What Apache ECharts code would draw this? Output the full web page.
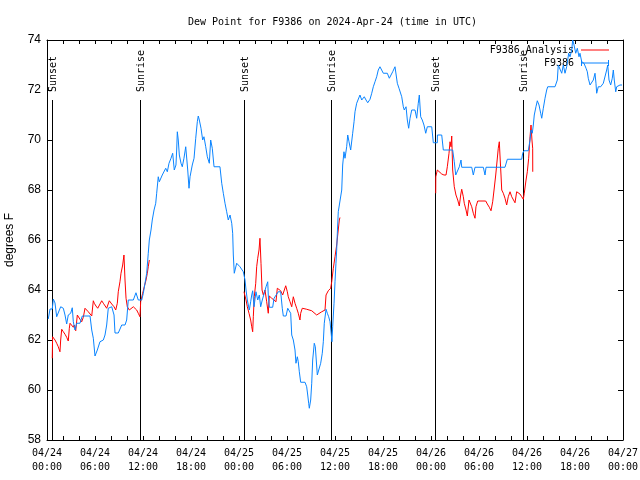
<!DOCTYPE html>
<html><head><meta charset="utf-8">
<script src="https://cdn.jsdelivr.net/npm/echarts@6/dist/echarts.min.js"></script>
<style>html,body{margin:0;padding:0;background:#fff}#c{width:640px;height:480px}</style>
</head><body><div id="c"></div>
<script>
// hours since 2024-04-24 00:00 UTC
const dayLabels = ['04/24','04/25','04/26','04/27'];
const yTicks = [58,60,62,64,66,68,70,72,74];
const sunTimes = [0.66, 11.66, 24.66, 35.54, 48.54, 59.54];
const sunLabels = ['Sunset','Sunrise','Sunset','Sunrise','Sunset','Sunrise'];

const obsSeries = [
[0.16,62.84],[0.38,63.24],[0.66,63.24],[0.79,63.64],[1.0,63.48],[1.21,62.93],[1.41,62.93],[1.71,63.33],[2.04,63.27],[2.25,63.0],
[2.46,62.64],[2.66,63.0],[2.96,63.07],[3.16,63.29],[3.29,62.73],[3.5,62.4],[3.71,62.67],[4.12,62.67],[4.41,62.96],[5.38,62.96],
[5.59,62.4],[5.79,62.07],[6.0,61.36],[6.29,61.6],[6.62,61.93],[7.04,62.0],[7.25,62.2],[7.46,62.6],[7.66,63.27],[8.09,63.33],
[8.38,63.0],[8.5,62.28],[8.91,62.28],[9.34,62.6],[9.75,62.6],[9.96,62.8],[10.16,63.6],[10.79,63.6],[11.12,63.89],[11.41,63.6],
[11.84,63.6],[12.04,63.87],[12.25,63.93],[12.46,64.67],[12.66,65.47],[12.79,66.0],[13.0,66.4],[13.16,66.8],[13.38,67.2],[13.59,67.47],
[13.71,67.87],[13.91,68.53],[14.04,68.33],[14.25,68.4],[14.41,68.6],[14.62,68.6],[14.84,68.87],[15.04,68.73],[15.25,69.07],[15.5,69.27],
[15.71,69.47],[15.91,68.8],[16.12,69.0],[16.21,69.6],[16.29,70.33],[16.41,70.0],[16.54,69.4],[16.75,69.07],[16.91,68.93],[17.12,69.27],
[17.34,69.73],[17.59,68.8],[17.75,68.07],[17.88,68.53],[18.16,69.0],[18.38,69.27],[18.59,70.07],[18.79,70.73],[18.91,70.96],[19.04,70.8],
[19.25,70.47],[19.46,70.0],[19.62,70.13],[19.84,69.73],[20.04,69.33],[20.29,69.07],[20.46,70.0],[20.66,69.67],[20.88,68.93],[21.62,68.93],
[21.84,68.27],[22.04,67.87],[22.25,67.47],[22.46,67.13],[22.66,66.8],[22.88,67.0],[23.09,66.67],[23.21,66.27],[23.29,65.4],[23.41,64.67],
[23.71,65.07],[24.12,64.93],[24.54,64.73],[24.75,64.4],[24.88,64.0],[25.04,63.6],[25.29,63.2],[25.46,63.53],[25.59,63.8],[25.71,63.97],
[25.88,63.33],[26.12,63.93],[26.34,63.6],[26.54,63.8],[26.71,63.33],[26.91,63.6],[27.16,63.87],[27.38,64.13],[27.59,64.33],[27.66,63.8],
[27.79,63.31],[28.21,63.31],[28.38,63.67],[28.59,63.67],[28.91,63.93],[29.21,63.93],[29.41,63.27],[29.54,62.96],[29.88,62.96],[30.09,63.27],
[30.29,63.31],[30.46,63.07],[30.59,62.2],[30.79,62.0],[31.0,61.6],[31.12,61.07],[31.29,61.33],[31.41,61.13],[31.54,60.73],[31.71,60.31],
[32.25,60.31],[32.46,60.13],[32.59,59.8],[32.71,59.47],[32.79,59.27],[32.96,59.6],[33.09,60.27],[33.21,61.2],[33.41,61.87],[33.54,61.73],
[33.71,61.73],[33.79,60.6],[34.04,60.67],[34.21,61.07],[34.41,61.47],[34.54,61.93],[34.66,62.67],[34.88,63.23],[35.04,63.07],[35.21,62.93],
[35.38,62.73],[35.5,62.67],[35.62,61.93],[35.71,62.53],[35.88,63.47],[36.0,64.33],[36.12,65.07],[36.21,65.6],[36.29,66.27],[36.41,67.13],
[36.62,67.2],[36.84,68.0],[36.96,69.0],[37.12,69.53],[37.25,69.27],[37.46,69.73],[37.59,70.2],[37.75,69.93],[37.96,69.6],[38.21,70.27],
[38.38,70.73],[38.5,71.13],[38.71,71.47],[38.91,71.53],[39.12,71.8],[39.34,71.6],[39.54,71.53],[39.66,71.73],[39.88,71.6],[40.09,71.49],
[40.38,71.63],[40.59,71.87],[40.79,72.13],[41.0,72.33],[41.21,72.53],[41.41,72.8],[41.62,72.93],[41.84,73.0],[42.04,72.67],[42.54,72.67],
[42.79,72.47],[43.0,72.6],[43.21,72.73],[43.5,72.93],[43.62,73.0],[43.79,72.27],[44.0,72.07],[44.21,72.0],[44.34,71.73],[44.54,71.33],
[44.66,71.2],[44.88,71.33],[45.04,70.8],[45.21,70.47],[45.38,70.87],[45.59,71.2],[46.0,71.2],[46.21,70.87],[46.41,71.47],[46.54,71.8],
[46.71,70.93],[46.91,70.8],[47.12,70.6],[47.34,70.27],[47.54,70.53],[48.09,70.53],[48.29,69.89],[48.79,69.89],[48.8,70.2],[49.34,70.2],
[49.54,69.6],[50.71,69.6],[50.91,69.13],[51.09,68.6],[51.34,68.6],[51.54,68.93],[51.75,69.2],[51.84,68.91],[53.09,68.91],[53.29,68.6],
[53.5,68.91],[54.54,68.91],[54.75,68.6],[54.88,68.91],[57.25,68.91],[57.54,69.23],[59.34,69.23],[59.46,69.47],[59.62,69.57],[60.16,69.57],
[60.38,70.0],[60.5,70.4],[60.66,70.27],[60.79,70.6],[60.91,71.0],[61.12,71.33],[61.29,71.57],[61.5,71.4],[61.71,71.07],[61.84,70.87],
[62.04,71.27],[62.25,71.67],[62.46,72.0],[62.59,72.13],[63.5,72.13],[63.79,72.4],[63.91,73.0],[64.12,73.07],[64.34,72.67],[64.54,73.0],
[64.75,72.67],[64.96,72.93],[65.09,73.2],[65.21,73.47],[65.38,73.33],[65.59,73.6],[65.71,74.0],[65.88,73.8],[66.09,73.47],[66.29,73.67],
[66.5,73.33],[66.62,73.47],[66.84,73.13],[67.12,73.07],[67.38,72.87],[67.54,72.73],[67.66,72.47],[67.88,72.2],[68.09,72.13],[68.29,72.4],
[68.5,72.67],[68.62,72.27],[68.71,71.87],[68.91,72.13],[69.21,72.13],[69.54,72.27],[69.75,72.33],[69.96,72.8],[70.09,73.0],[70.25,72.4],
[70.46,72.2],[70.66,72.47],[70.79,72.8],[70.91,72.4],[71.09,71.93],[71.21,72.13],[71.34,72.2],[71.62,72.2],[71.88,72.2]
];

const analysisSeries = [
[0.66,61.27],[0.7,62.13],[1.0,62.0],[1.21,61.87],[1.41,61.73],[1.62,61.53],[1.71,62.0],[1.84,62.43],[2.04,62.33],[2.25,62.23],
[2.46,62.11],[2.66,61.96],[2.79,62.47],[2.88,62.67],[3.09,62.6],[3.29,62.51],[3.41,62.6],[3.59,62.37],[3.79,63.0],[3.91,62.96],
[4.12,62.83],[4.34,62.73],[4.54,62.91],[4.75,63.27],[4.96,63.2],[5.16,63.13],[5.38,63.07],[5.59,62.96],[5.79,63.57],[5.91,63.47],
[6.12,63.36],[6.34,63.27],[6.54,63.2],[6.84,63.57],[7.04,63.47],[7.25,63.4],[7.46,63.27],[7.79,63.57],[8.09,63.44],[8.38,63.33],
[8.59,63.2],[8.79,63.47],[8.91,63.93],[9.12,64.33],[9.25,64.67],[9.46,65.0],[9.62,65.4],[9.75,64.4],[9.88,63.67],[10.04,63.33],
[10.29,63.2],[10.5,63.13],[10.79,63.33],[11.0,63.4],[11.21,63.2],[11.41,63.07],[11.62,62.93],[11.71,63.53],[11.96,63.87],[12.16,64.13],
[12.38,64.4],[12.54,64.67],[12.66,64.93],[12.79,65.2],[null,null],
[24.62,63.93],[24.75,63.93],[24.88,63.6],[25.04,63.33],[25.25,63.07],[25.46,62.8],[25.59,62.53],[25.71,62.33],[25.79,62.93],[25.91,63.73],
[26.09,64.27],[26.21,64.93],[26.34,65.27],[26.5,65.6],[26.62,66.07],[26.75,65.07],[26.88,64.0],[27.04,63.8],[27.25,64.0],[27.46,63.53],
[27.66,63.07],[27.79,63.76],[28.09,63.67],[28.29,63.6],[28.62,63.53],[28.79,64.07],[29.04,64.0],[29.21,63.97],[29.46,63.8],[29.62,63.73],
[29.84,64.17],[30.04,63.93],[30.16,63.73],[30.38,63.53],[30.59,63.33],[30.79,63.73],[31.0,63.47],[31.21,63.27],[31.41,63.07],[31.62,62.8],
[31.71,63.07],[31.91,63.27],[32.46,63.23],[33.09,63.17],[33.71,63.0],[34.34,63.13],[34.75,63.2],[34.88,63.8],[35.16,63.97],[35.46,64.07],
[35.59,64.33],[35.79,64.87],[36.0,65.33],[36.21,65.8],[36.34,66.2],[36.54,66.8],[36.62,66.9],[null,null],
[48.59,67.87],[48.6,68.53],[48.79,68.8],[49.04,68.73],[49.34,68.64],[49.62,68.6],[49.88,68.6],[50.04,68.93],[50.25,69.47],[50.38,69.93],
[50.5,69.73],[50.59,70.16],[50.71,68.8],[50.91,68.13],[51.12,67.8],[51.34,67.6],[51.54,67.36],[51.71,67.8],[51.84,68.03],[52.04,67.73],
[52.16,67.47],[52.38,67.2],[52.54,66.96],[52.75,67.6],[52.88,67.6],[53.09,67.33],[53.29,67.07],[53.5,66.87],[53.62,67.33],[53.84,67.56],
[54.84,67.56],[55.04,67.44],[55.29,67.31],[55.5,67.17],[55.71,67.53],[55.88,68.0],[56.09,68.6],[56.21,69.0],[56.41,69.67],[56.54,69.93],
[56.62,69.4],[56.75,68.6],[56.84,68.0],[57.04,67.87],[57.25,67.67],[57.46,67.4],[57.66,67.73],[57.88,67.93],[58.09,67.73],[58.29,67.67],
[58.5,67.49],[58.71,67.93],[58.91,68.0],[59.12,67.84],[59.34,67.73],[59.54,67.63],[59.66,67.87],[59.88,68.4],[60.04,68.73],[60.21,69.27],
[60.38,70.13],[60.5,70.6],[60.62,70.0],[60.71,69.67],[60.72,68.73]
];

const MONO = '"DejaVu Sans Mono", monospace';
const SANS = '"Liberation Sans", Arial, sans-serif';
const pad = n => (n < 10 ? '0' : '') + n;

const chart = echarts.init(document.getElementById('c'), null, {renderer: 'canvas'});
const xCommon = {
  type: 'value', min: 0, max: 72, interval: 2,
  axisLine: {show: true, onZero: false, lineStyle: {color: '#000', width: 1}},
  axisTick: {show: true, inside: true, length: 4, lineStyle: {color: '#000'}},
  splitLine: {show: false}
};
chart.setOption({
  animation: false,
  backgroundColor: '#fff',
  title: {
    text: 'Dew Point for F9386 on 2024-Apr-24 (time in UTC)',
    left: 183, top: 12,
    textStyle: {fontFamily: MONO, fontSize: 10, fontWeight: 'normal', color: '#000'}
  },
  legend: {
    orient: 'vertical', right: 26, top: 40, align: 'right',
    itemWidth: 28, itemHeight: 6, itemGap: 3,
    textStyle: {fontFamily: MONO, fontSize: 10, color: '#000', padding: [0, 2, 0, 0]},
    data: [
      {name: 'F9386_Analysis', icon: 'path://M0,0M0,2.5h28v1h-28zM28,6'},
      {name: 'F9386', icon: 'path://M0,0h1v6h-1zM0,2.5h28v1h-28zM27,0h1v6h-1z'}
    ]
  },
  grid: {left: 47, right: 17, top: 40, bottom: 40, containLabel: false, outerBoundsMode: 'none'},
  xAxis: [
    Object.assign({}, xCommon, {
      position: 'bottom',
      axisLabel: {
        show: true, margin: 6, color: '#000', fontFamily: MONO, fontSize: 10, lineHeight: 14,
        showMinLabel: true, showMaxLabel: true,
        formatter: v => (v % 6 === 0) ? dayLabels[Math.floor(v / 24)] + '\n' + pad(v % 24) + ':00' : ''
      }
    }),
    Object.assign({}, xCommon, {position: 'top', axisLabel: {show: false}})
  ],
  yAxis: [
    {
      type: 'value', min: 58, max: 74, interval: 2, position: 'left',
      name: 'degrees F', nameLocation: 'middle', nameGap: 31, nameRotate: 90,
      nameTextStyle: {fontFamily: SANS, fontSize: 12, color: '#000'},
      axisLine: {show: true, onZero: false, lineStyle: {color: '#000'}},
      axisTick: {show: true, inside: true, length: 5, lineStyle: {color: '#000'}},
      axisLabel: {margin: 6, color: '#000', fontFamily: SANS, fontSize: 12},
      splitLine: {show: false}
    },
    {
      type: 'value', min: 58, max: 74, interval: 2, position: 'right',
      axisLine: {show: true, onZero: false, lineStyle: {color: '#000'}},
      axisTick: {show: true, inside: true, length: 5, lineStyle: {color: '#000'}},
      axisLabel: {show: false},
      splitLine: {show: false}
    }
  ],
  series: [
    {
      type: 'custom', name: 'sun', silent: true,
      data: sunTimes.map((t, i) => [t, i]),
      clip: false,
      renderItem: (params, api) => {
        const t = api.value(0);
        const idx = api.value(1);
        const p0 = api.coord([t, 58]);
        const p1 = api.coord([t, 71.6]);
        const pt = api.coord([t, 71.92]);
        const x = Math.round(p0[0]) + 0.5;
        return {
          type: 'group',
          children: [
            {type: 'line', shape: {x1: x, y1: p0[1], x2: x, y2: p1[1]}, style: {stroke: '#000', lineWidth: 1}},
            {type: 'text', x: x + 1, y: pt[1], rotation: Math.PI / 2,
             style: {text: sunLabels[idx], font: '10px ' + MONO, fill: '#000', textAlign: 'left', textVerticalAlign: 'middle'}}
          ]
        };
      }
    },
    {
      type: 'line', name: 'F9386_Analysis', data: analysisSeries, showSymbol: false, symbol: 'none',
      connectNulls: false, lineStyle: {color: '#ff0000', width: 1}, itemStyle: {color: '#ff0000'}, z: 3
    },
    {
      type: 'line', name: 'F9386', data: obsSeries, showSymbol: false, symbol: 'none',
      lineStyle: {color: '#0a84ff', width: 1}, itemStyle: {color: '#0a84ff'}, z: 4
    }
  ]
});
</script>
</body></html>
